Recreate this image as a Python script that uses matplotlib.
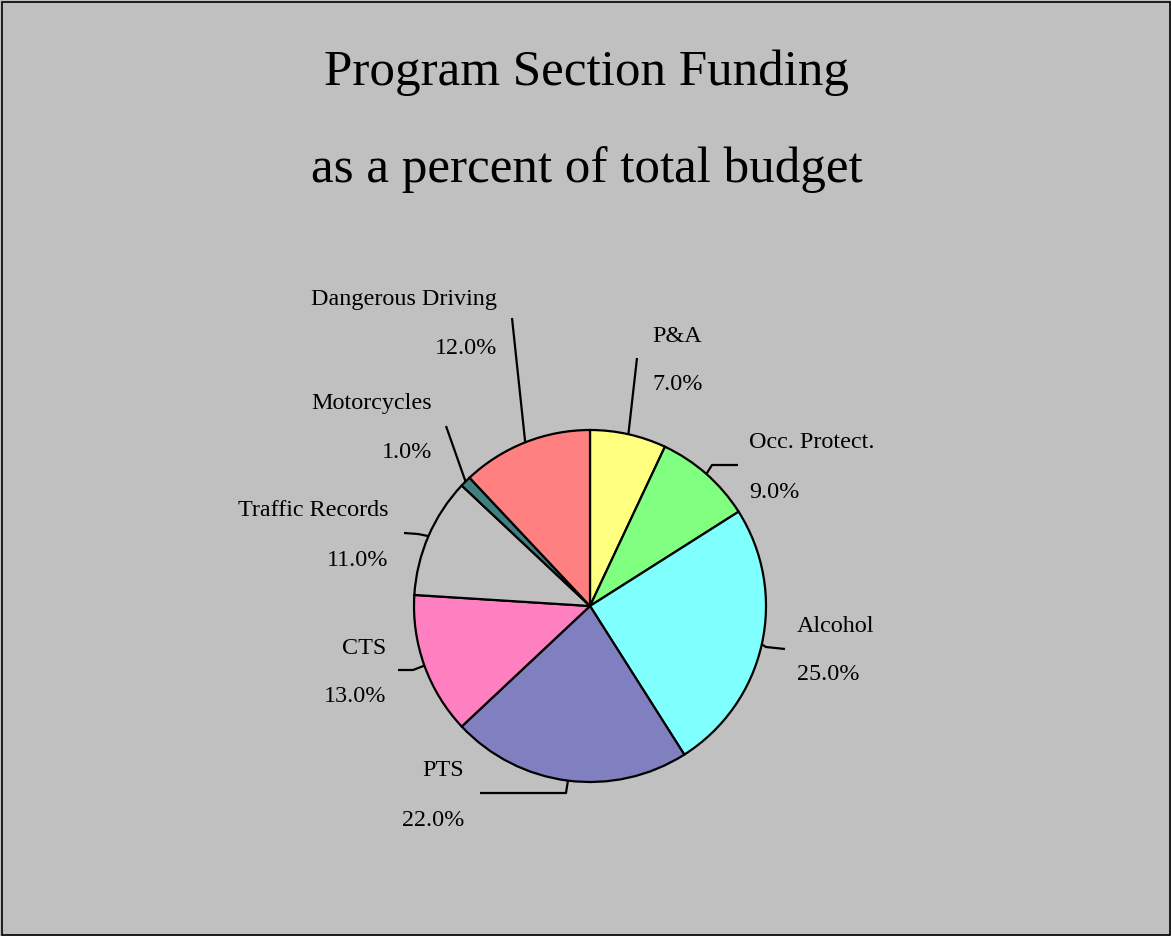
import matplotlib.pyplot as plt
from matplotlib.patches import Rectangle
import numpy as np

# Budget shares by program section (percent of total)
categories = ["P&A", "Occ. Protect.", "Alcohol", "PTS", "CTS",
              "Traffic Records", "Motorcycles", "Dangerous Driving"]
shares = [7.0, 9.0, 25.0, 22.0, 13.0, 11.0, 1.0, 12.0]
colors = ["#FFFF80", "#80FF80", "#80FFFF", "#8080C0", "#FF80C0",
          "#C0C0C0", "#408080", "#FF8080"]

title_lines = ["Program Section Funding", "as a percent of total budget"]

W, H = 1171, 936
BG = "#C0C0C0"
SERIF = ["Liberation Serif", "DejaVu Serif"]

fig = plt.figure(figsize=(W / 100, H / 100), dpi=100, facecolor=BG)
ax = fig.add_axes([0, 0, 1, 1])
ax.set_facecolor(BG)


def Y(y):
    """Convert a top-down canvas row into the axes' bottom-up y."""
    return H - y


cx, cy, R = 590, 606, 176
ax.pie(shares, colors=colors, startangle=90, counterclock=False,
       center=(cx, Y(cy)), radius=R,
       wedgeprops=dict(edgecolor="black", linewidth=1.6))

ax.set_xlim(0, W)
ax.set_ylim(0, H)
ax.set_aspect("auto")
ax.axis("off")

# Leader-line bends and label anchors: (bend points after rim, text x, text y, alignment)
layout = {
    "P&A":               ([(637, 358)],             652, 336, "left"),
    "Occ. Protect.":     ([(712, 465), (738, 465)], 749, 443, "left"),
    "Alcohol":           ([(766, 647), (785, 649)], 797, 626, "left"),
    "PTS":               ([(566, 793), (480, 793)], 464, 771, "right"),
    "CTS":               ([(413, 670), (398, 670)], 386, 648, "right"),
    "Traffic Records":   ([(418, 534), (404, 533)], 388, 511, "right"),
    "Motorcycles":       ([(446, 426)],             432, 404, "right"),
    "Dangerous Driving": ([(512, 318)],             497, 299, "right"),
}

cum = np.cumsum([0] + shares[:-1])
for name, share, start in zip(categories, shares, cum):
    mid = np.deg2rad(90 - (start + share / 2) * 3.6)
    rx, ry = cx + R * np.cos(mid), cy - R * np.sin(mid)
    bends, tx, ty, ha = layout[name]
    xs = [rx] + [b[0] for b in bends]
    ys = [Y(ry)] + [Y(b[1]) for b in bends]
    ax.plot(xs, ys, color="black", lw=1.6, solid_capstyle="butt")
    ax.text(tx, Y(ty), name, ha=ha, va="center", fontsize=17.4,
            family=SERIF, color="black")
    ax.text(tx, Y(ty + 49), f"{share:.1f}%", ha=ha, va="center",
            fontsize=17.4, family=SERIF, color="black")

for i, line in enumerate(title_lines):
    ax.text(587, Y(73 + 97 * i), line, ha="center", va="center",
            fontsize=36.8, family=SERIF, color="black")

ax.add_patch(Rectangle((1.5, 1.5), W - 3, H - 3, fill=False,
                       edgecolor="black", lw=1.2, clip_on=False))

fig.savefig("out.png", dpi=100, facecolor=BG)
